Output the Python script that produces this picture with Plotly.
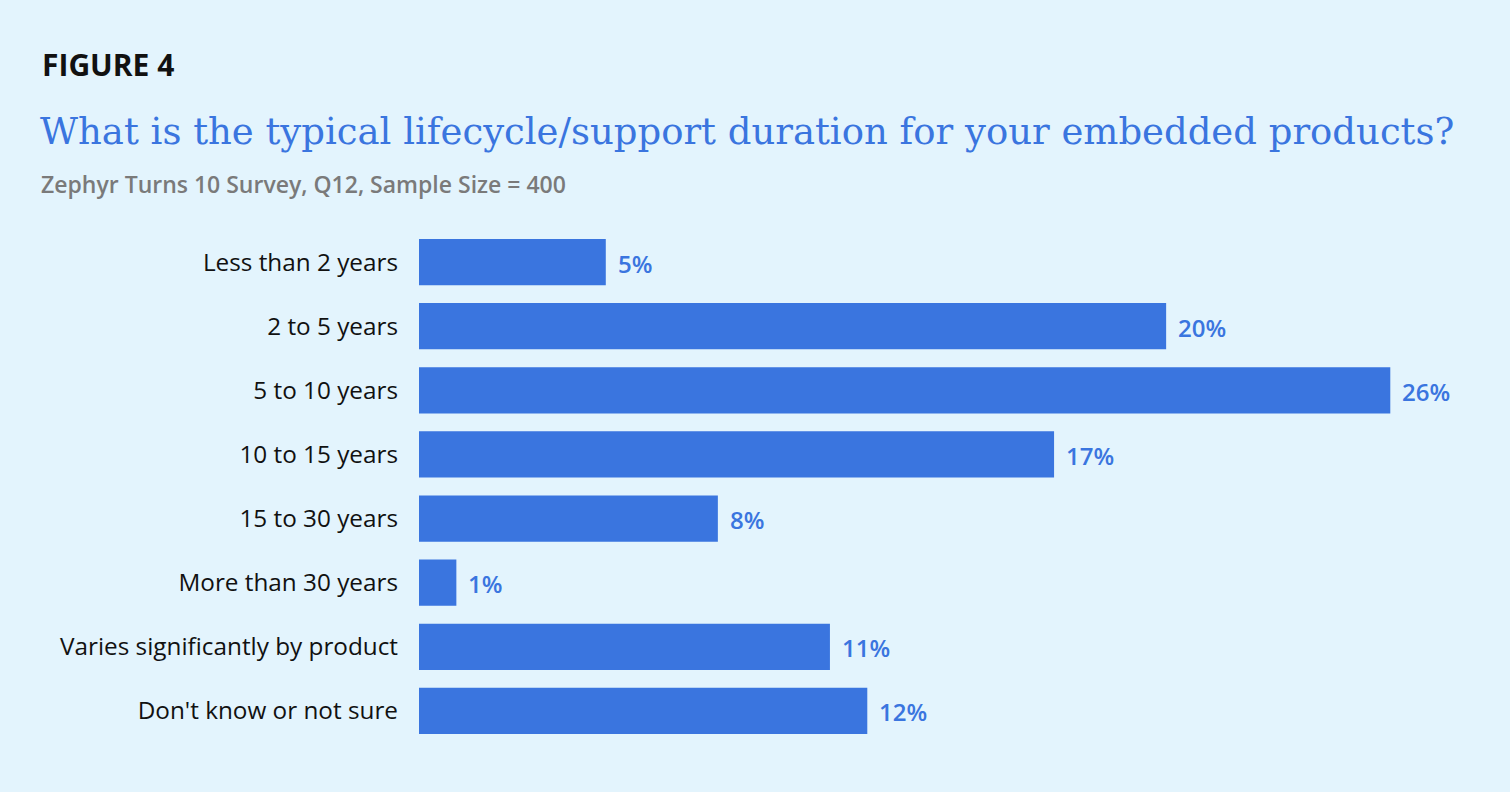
import plotly.graph_objects as go

categories = ["Less than 2 years", "2 to 5 years", "5 to 10 years", "10 to 15 years",
              "15 to 30 years", "More than 30 years", "Varies significantly by product",
              "Don't know or not sure"]
values = [5, 20, 26, 17, 8, 1, 11, 12]

bg = "#e3f4fd"
blue = "#3a75df"

fig = go.Figure()
fig.add_trace(go.Bar(x=values, y=categories, orientation="h",
                     marker=dict(color=blue, line=dict(width=0)),
                     hoverinfo="skip"))

# value labels next to the bars
for c, v in zip(categories, values):
    fig.add_annotation(x=v, y=c, text="%d%%" % v, showarrow=False,
                       xanchor="left", xshift=10, yshift=-1,
                       font=dict(family="Open Sans", size=24, weight=600, color=blue))

fig.update_layout(
    width=1510, height=792,
    paper_bgcolor=bg, plot_bgcolor=bg,
    margin=dict(l=419, r=45, t=230, b=49),
    bargap=0.28,
    showlegend=False,
    xaxis=dict(range=[0, 28], visible=False, fixedrange=True),
    yaxis=dict(autorange="reversed", showgrid=False, zeroline=False, showline=False,
               ticks="", ticklabelstandoff=20, fixedrange=True,
               tickfont=dict(family="Open Sans", size=24.3, color="#111111")),
)

# header texts placed in pixel positions (converted to paper coordinates)
def px(xp, yp):
    return (xp - 419) / (1510 - 419 - 45), 1 - (yp - 230) / (792 - 230 - 49)

x0, y0 = px(40, 64)
fig.add_annotation(x=x0, y=y0, xref="paper", yref="paper", text="<b>FIGURE 4</b>",
                   showarrow=False, xanchor="left", yanchor="middle",
                   font=dict(family="Open Sans", size=30, color="#111111"))
x1, y1 = px(38, 131)
fig.add_annotation(x=x1, y=y1, xref="paper", yref="paper",
                   text="What is the typical lifecycle/support duration for your embedded products?",
                   showarrow=False, xanchor="left", yanchor="middle",
                   font=dict(family="Roboto Slab, DejaVu Serif", size=37, color=blue))
x2, y2 = px(39, 184)
fig.add_annotation(x=x2, y=y2, xref="paper", yref="paper",
                   text="Zephyr Turns 10 Survey, Q12, Sample Size = 400",
                   showarrow=False, xanchor="left", yanchor="middle",
                   font=dict(family="Open Sans", size=23, weight=600, color="#7a7a7a"))

fig.write_html("out.html", config={"displayModeBar": False},
               post_script="document.body.style.margin='0';")
